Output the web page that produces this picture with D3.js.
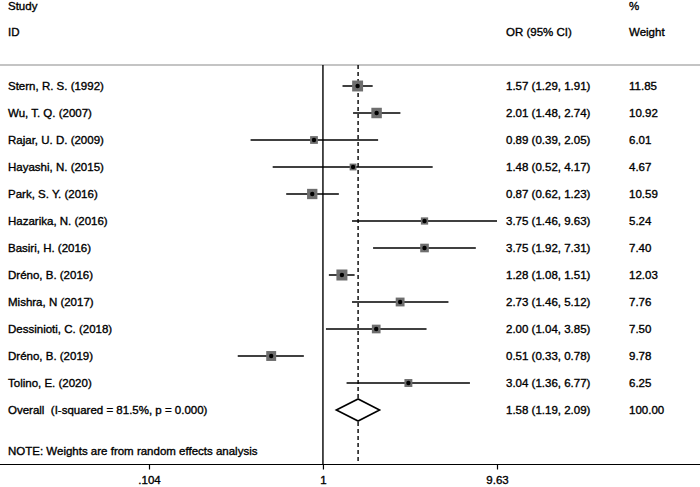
<!DOCTYPE html>
<html><head><meta charset="utf-8">
<script src="https://cdn.jsdelivr.net/npm/d3@7"></script>
<style>
html,body{margin:0;padding:0;background:#fff;}
svg text{font-family:"Liberation Sans",Arial,sans-serif;font-size:11.5px;fill:#000;stroke:#000;stroke-width:0.35px;white-space:pre;}
</style></head><body>
<svg id="c" width="700" height="487"></svg>
<script>
const studies = ["Stern, R. S. (1992)","Wu, T. Q. (2007)","Rajar, U. D. (2009)","Hayashi, N. (2015)","Park, S. Y. (2016)","Hazarika, N. (2016)","Basiri, H. (2016)","Dréno, B. (2016)","Mishra, N (2017)","Dessinioti, C. (2018)","Dréno, B. (2019)","Tolino, E. (2020)"];
const orVals = [1.57,2.01,0.89,1.48,0.87,3.75,3.75,1.28,2.73,2.00,0.51,3.04];
const loVals = [1.29,1.48,0.39,0.52,0.62,1.46,1.92,1.08,1.46,1.04,0.33,1.36];
const hiVals = [1.91,2.74,2.05,4.17,1.23,9.63,7.31,1.51,5.12,3.85,0.78,6.77];
const weights = [11.85,10.92,6.01,4.67,10.59,5.24,7.40,12.03,7.76,7.50,9.78,6.25];
const overall = {label:"Overall  (I-squared = 81.5%, p = 0.000)", or:1.58, lo:1.19, hi:2.09, weight:100.00};
const tickVals = [0.104, 1, 9.63];
const tickLabels = [".104", "1", "9.63"];
const noteText = "NOTE: Weights are from random effects analysis";

const svg = d3.select("#c");
const x = d3.scaleLog().domain([0.104, 9.63]).range([149, 497]);
const rowY = d3.scaleLinear().domain([0, 1]).range([86, 113]);
const fmt = d3.format(".2f");
const topY = 65, axisY = 464.5;

// headers
const hdr = svg.append("g");
hdr.append("text").attr("x",8).attr("y",9.5).text("Study");
hdr.append("text").attr("x",8).attr("y",36).text("ID");
hdr.append("text").attr("x",506).attr("y",36).text("OR (95% CI)");
hdr.append("text").attr("x",629).attr("y",9.5).text("%");
hdr.append("text").attr("x",629).attr("y",36).text("Weight");

// top separator
svg.append("line").attr("x1",0).attr("x2",700).attr("y1",topY).attr("y2",topY)
  .attr("stroke","#8a8a8a").attr("stroke-width",1.2);

// null line
svg.append("line").attr("x1",x(1)).attr("x2",x(1)).attr("y1",topY).attr("y2",axisY)
  .attr("stroke","#000").attr("stroke-width",1.4);
// overall dashed line
svg.append("line").attr("x1",x(overall.or)).attr("x2",x(overall.or)).attr("y1",topY).attr("y2",axisY)
  .attr("stroke","#000").attr("stroke-width",1.4).attr("stroke-dasharray","4,3");

const data = studies.map((s,i)=>({s, or:orVals[i], lo:loVals[i], hi:hiVals[i], w:weights[i], i}));
const side = w => 11*Math.sqrt(w/12.03);

const rows = svg.append("g").selectAll("g").data(data).join("g")
  .attr("transform", d=>`translate(0,${rowY(d.i)})`);
rows.append("line").attr("x1",d=>x(d.lo)).attr("x2",d=>x(d.hi)).attr("y1",0).attr("y2",0)
  .attr("stroke","#000").attr("stroke-width",1.5);
rows.append("rect").attr("x",d=>x(d.or)-side(d.w)/2).attr("y",d=>-side(d.w)/2)
  .attr("width",d=>side(d.w)).attr("height",d=>side(d.w)).attr("fill","#6e6e6e");
rows.append("circle").attr("cx",d=>x(d.or)).attr("cy",0).attr("r",2.2).attr("fill","#000");
rows.append("text").attr("x",8).attr("y",4).text(d=>d.s);
rows.append("text").attr("x",506).attr("y",4).text(d=>`${fmt(d.or)} (${fmt(d.lo)}, ${fmt(d.hi)})`);
rows.append("text").attr("x",629).attr("y",4).text(d=>fmt(d.w));

// overall row
const oy = rowY(studies.length);
const og = svg.append("g").attr("transform",`translate(0,${oy})`);
og.append("path").attr("d",`M${x(overall.lo)},0L${x(overall.or)},-11L${x(overall.hi)},0L${x(overall.or)},11Z`)
  .attr("fill","#fff").attr("stroke","#000").attr("stroke-width",1.6);
og.append("text").attr("x",8).attr("y",4).text(overall.label);
og.append("text").attr("x",506).attr("y",4).text(`${fmt(overall.or)} (${fmt(overall.lo)}, ${fmt(overall.hi)})`);
og.append("text").attr("x",629).attr("y",4).text(fmt(overall.weight));

svg.append("text").attr("x",8).attr("y",455).text(noteText);

// axis
svg.append("line").attr("x1",0).attr("x2",700).attr("y1",axisY).attr("y2",axisY)
  .attr("stroke","#000").attr("stroke-width",1.2);
const axis = d3.axisBottom(x).tickValues(tickVals).tickFormat((d,i)=>tickLabels[i]).tickSize(5).tickPadding(6);
const ag = svg.append("g").attr("transform",`translate(0,${axisY})`).call(axis);
ag.select(".domain").remove();
ag.selectAll(".tick line").attr("stroke","#000").attr("stroke-width",1.2);
ag.selectAll(".tick text").attr("font-family",null).attr("font-size",null).style("fill","#000");
</script>
</body></html>
